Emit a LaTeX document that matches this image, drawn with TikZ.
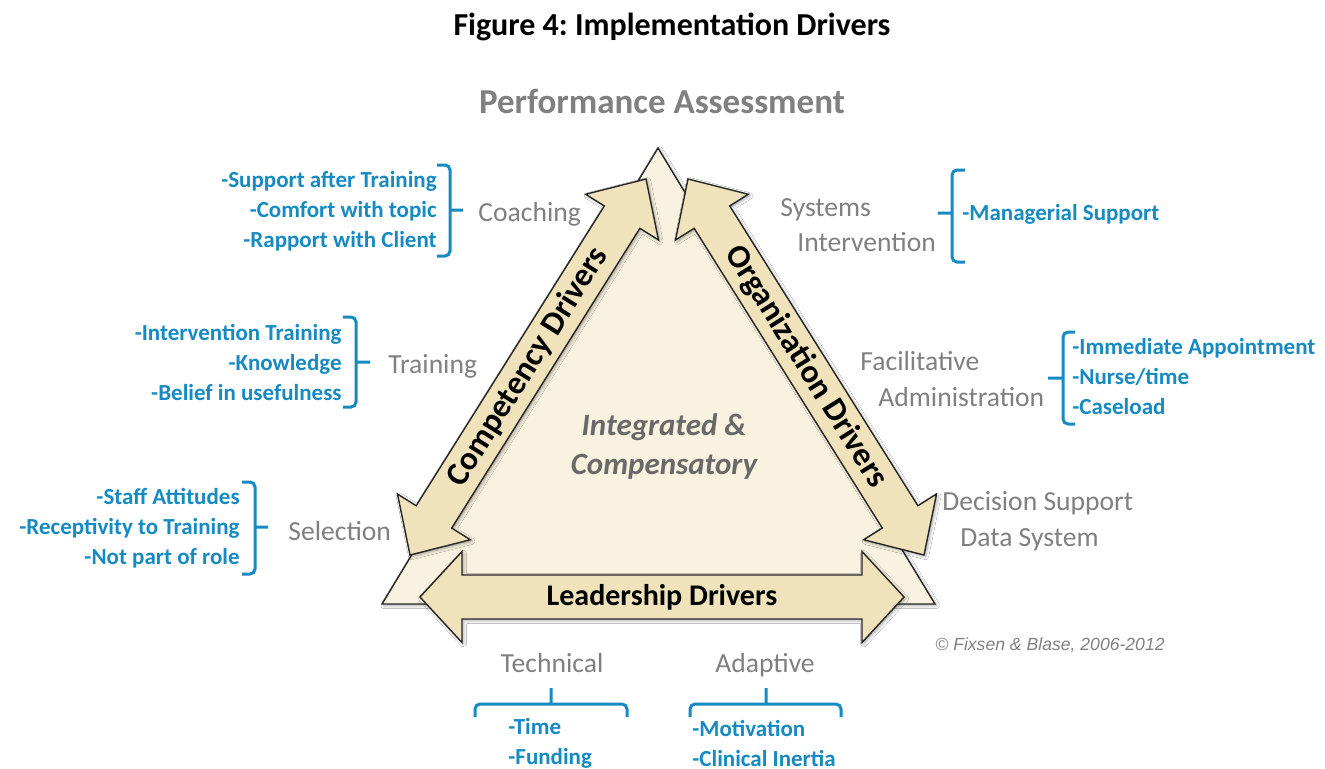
\documentclass[tikz,border=0pt]{standalone}
\usepackage{fontspec}
\setmainfont{Carlito}
\newfontfamily\arialfont{Liberation Sans}
\usepackage{tikz}
\usetikzlibrary{calc,shadows.blur}
\definecolor{drvtan}{RGB}{240,226,187}
\definecolor{drvpale}{RGB}{249,242,224}
\definecolor{lblgray}{RGB}{128,128,128}
\definecolor{itmblue}{RGB}{22,138,194}
\definecolor{midgray}{RGB}{105,105,105}
\newcommand{\drvarrow}[5]{%
  \path ($(#1)!#3!(#2)$) coordinate (ha) ($(#2)!#3!(#1)$) coordinate (hb);
  \draw[arrowbox] (#1) -- ($(ha)!#4!-90:(#2)$) -- ($(ha)!#5!-90:(#2)$)
    -- ($(hb)!#5!90:(#1)$) -- ($(hb)!#4!90:(#1)$) -- (#2)
    -- ($(hb)!#4!-90:(#1)$) -- ($(hb)!#5!-90:(#1)$)
    -- ($(ha)!#5!90:(#2)$) -- ($(ha)!#4!90:(#2)$) -- cycle;}

\begin{document}
\frenchspacing
\begin{tikzpicture}[
    x=0.5pt, y=-0.5pt,
    nosep/.style={inner sep=0},
    ttl/.style={nosep, font=\fontsize{16}{19}\selectfont\bfseries},
    lbl/.style={nosep, anchor=base west, text=lblgray, font=\fontsize{13.8}{16}\selectfont},
    itm/.style={nosep, text=itmblue, font=\fontsize{11.5}{15}\selectfont\bfseries},
    drv/.style={nosep, font=\fontsize{16.5}{19}\selectfont\bfseries},
    brk/.style={draw=itmblue, line width=1.5pt, rounded corners=2.5pt},
    arrowbox/.style={draw=black!85, line width=0.7pt, fill=drvtan, line join=miter,
        blur shadow={shadow xshift=0.8pt, shadow yshift=-0.8pt, shadow blur radius=1.5pt, shadow opacity=35}}]
\fill[white] (0,0) rectangle (1325,768);
\useasboundingbox (0,0) rectangle (1325,768);

\node[ttl] (title) at (672,27) {Figure 4: Implementation Drivers};
\node[nosep, text=lblgray, font=\fontsize{17.5}{21}\selectfont\bfseries] (perf) at (662,101) {Performance Assessment};

\coordinate (apex) at (658,148);
\coordinate (bl) at (382,604);
\coordinate (br) at (935,604);
\draw[arrowbox, fill=drvpale] (apex) -- (bl) -- (br) -- cycle;

\coordinate (cdA) at (410,555);
\coordinate (cdB) at (646,179);
\coordinate (odA) at (688,179);
\coordinate (odB) at (924,555);
\coordinate (ldA) at (420,597);
\coordinate (ldB) at (904,597);
\drvarrow{cdA}{cdB}{22.5pt}{21.5pt}{10.5pt}
\drvarrow{odA}{odB}{22.5pt}{21.5pt}{10.5pt}
\drvarrow{ldA}{ldB}{21pt}{22.75pt}{11pt}

\node[drv, rotate=57.9] (cdtext) at ($(cdA)!0.5!(cdB)$) {Competency Drivers};
\node[drv, rotate=-57.9] (odtext) at ($(odA)!0.5!(odB)$) {Organization Drivers};
\node[drv, font=\fontsize{15}{18}\selectfont\bfseries] (ldtext) at ($(ldA)!0.5!(ldB)$) {Leadership Drivers};
\node[nosep, text=midgray, align=center, font=\fontsize{15.5}{19.5}\selectfont\bfseries\itshape] (integ) at (664,447) {Integrated \&\\Compensatory};

\node[lbl] (coach) at (478,221) {Coaching};
\node[lbl] (train) at (388,373) {Training};
\node[lbl] (select) at (288,540) {Selection};
\node[lbl] (sys) at (780,216) {Systems};
\node[lbl] (sysint) at (797,251) {Intervention};
\node[lbl] (facil) at (860,370) {Facilitative};
\node[lbl] (admin) at (878,406) {Administration};
\node[lbl] (decis) at (942,510) {Decision Support};
\node[lbl] (data) at (960,546) {Data System};
\node[lbl, anchor=base] (tech) at (552,672) {Technical};
\node[lbl, anchor=base] (adapt) at (765,672) {Adaptive};

\node[itm, align=right, anchor=east] (coachitems) at (437,211) {-Support after Training\\-Comfort with topic\\-Rapport with Client};
\node[itm, align=right, anchor=east] (trainitems) at (342,362) {-Intervention Training\\-Knowledge\\-Belief in usefulness};
\node[itm, align=right, anchor=east] (selectitems) at (240,528) {-Staff Attitudes\\-Receptivity to Training\\-Not part of role};
\node[itm, anchor=west] (sysitems) at (962,214) {-Managerial Support};
\node[itm, align=left, anchor=west] (adminitems) at (1072,376) {-Immediate Appointment\\-Nurse/time\\-Caseload};
\node[itm, align=left, anchor=west] (techitems) at (508,743) {-Time\\-Funding};
\node[itm, align=left, anchor=west] (adaptitems) at (692,743) {-Motivation\\-Clinical Inertia};

\draw[brk] (437,165) -- (450,165) -- (450,256) -- (437,256) (450,210) -- (463,210);
\draw[brk] (343,317) -- (356,317) -- (356,407) -- (343,407) (356,362) -- (370,362);
\draw[brk] (242,482) -- (255,482) -- (255,574) -- (242,574) (255,527) -- (268,527);
\draw[brk] (965,170) -- (952,170) -- (952,262) -- (965,262) (952,213) -- (938,213);
\draw[brk] (1075,332) -- (1063,332) -- (1063,424) -- (1075,424) (1063,378) -- (1048,378);
\draw[brk] (475,717) -- (475,704) -- (627,704) -- (627,717) (551,704) -- (551,688);
\draw[brk] (690,717) -- (690,704) -- (841,704) -- (841,717) (766,704) -- (766,688);

\node[nosep, text=lblgray, font=\arialfont\itshape\fontsize{8.8}{10}\selectfont] (copyr) at (1050,645) {© Fixsen \& Blase, 2006-2012};
\end{tikzpicture}
\end{document}
